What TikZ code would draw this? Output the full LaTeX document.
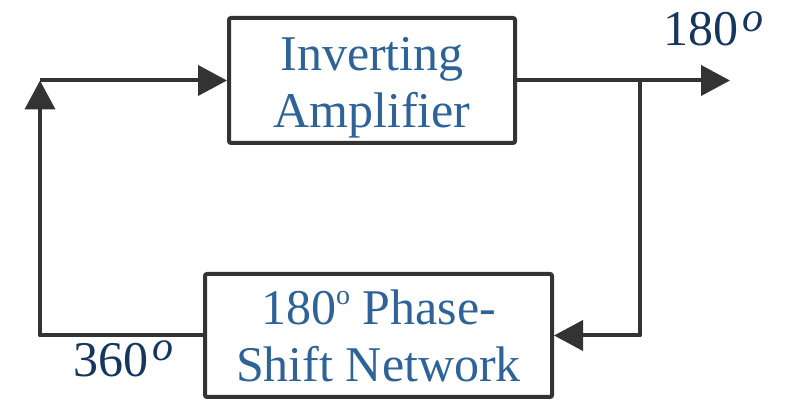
\documentclass[tikz,border=0pt]{standalone}
\usepackage{fontspec}
\setmainfont{Liberation Serif}
\usetikzlibrary{arrows.meta}
\definecolor{linegray}{HTML}{333333}
\definecolor{boxblue}{HTML}{2E6399}
\definecolor{labelnavy}{HTML}{17365D}
\begin{document}
\begin{tikzpicture}[x=1pt, y=1pt, >={Triangle[length=29pt,width=30pt]},
    wire/.style={line width=4pt, draw=linegray, line join=round},
    block/.style={draw=linegray, line width=4pt, rounded corners=2pt, text=boxblue,
        align=center, font=\fontsize{50}{57}\selectfont},
    deglabel/.style={text=labelnavy, font=\fontsize{50}{57}\selectfont, inner sep=0pt, anchor=base west}]
    \useasboundingbox (0,0) rectangle (794,401);
    \node [block, minimum width=286pt, minimum height=125pt, text height=98.5pt, text depth=3.5pt]
        (amp) at (372,320.5) {Inverting\\Amplifier};
    \node [block, minimum width=347pt, minimum height=123pt, text height=97.5pt, text depth=4.5pt]
        (phase) at (378.5,65.5) {180\raisebox{20pt}{\fontsize{28}{28}\selectfont o} Phase-\\Shift Network};
    \node [deglabel] (outdeg) at (663,355) {180\kern4pt\raisebox{14pt}[0pt][0pt]{\fontsize{42}{42}\selectfont\itshape o}};
    \node [deglabel] (loopdeg) at (73,24) {360\kern4pt\raisebox{16pt}[0pt][0pt]{\fontsize{42}{42}\selectfont\itshape o}};
    \coordinate (out) at (730,320.5);
    \coordinate (tap) at (640,320.5);
    \coordinate (tapdown) at (640,65.5);
    \coordinate (retcorner) at (40,65.5);
    \coordinate (upcorner) at (40,320.5);
    \draw [wire, ->] (amp.east) -- (out);
    \draw [wire, ->] (tap) -- (tapdown) -- (phase.east);
    \draw [wire, ->] (phase.west) -- (retcorner) -- (upcorner);
    \draw [wire, ->] (upcorner) -- (amp.west);
\end{tikzpicture}
\end{document}
